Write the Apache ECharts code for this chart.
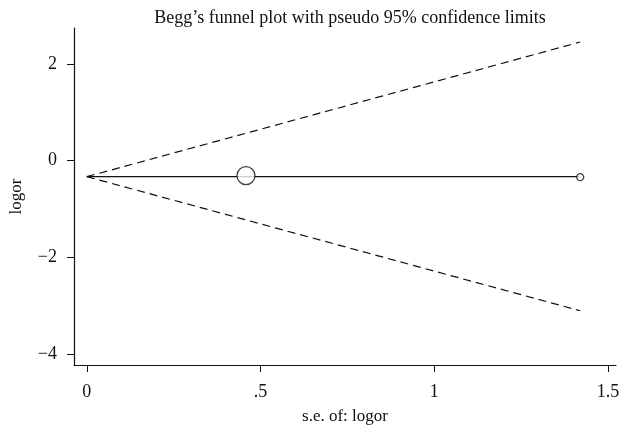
<!DOCTYPE html>
<html>
<head>
<meta charset="utf-8">
<script src="https://cdn.jsdelivr.net/npm/echarts@6/dist/echarts.min.js"></script>
<style>
  html, body { margin: 0; padding: 0; background: #fff; }
  #chart { width: 621px; height: 430px; }
</style>
</head>
<body>
<div id="chart"></div>
<script>
// values
var studySe = [0.458, 1.42];
var studyLogor = [-0.31, -0.34];
var studySize = [18, 7];
var pooled = -0.33;
var seMax = 1.42;
var upperEnd = 2.45;   // upper pseudo 95% limit at seMax
var lowerEnd = -3.10;  // lower pseudo 95% limit at seMax
var xTicks = [0, 0.5, 1, 1.5];
var xTickLabels = ['0', '.5', '1', '1.5'];
var yTicks = [-4, -2, 0, 2];

var myChart = echarts.init(document.getElementById('chart'));
var serif = '"Liberation Serif", "DejaVu Serif", serif';
var ink = '#111';

var points = studySe.map(function (s, i) {
  return { value: [s, studyLogor[i]], symbolSize: studySize[i] };
});

var option = {
  animation: false,
  textStyle: { fontFamily: serif, color: ink },
  title: {
    text: 'Begg\u2019s funnel plot with pseudo 95% confidence limits',
    left: 345, top: 4, textAlign: 'center',
    textStyle: { fontFamily: serif, fontSize: 18, fontWeight: 'normal', color: ink }
  },
  grid: { left: 74, right: 5, top: 28, bottom: 65, containLabel: false, outerBoundsMode: 'none' },
  xAxis: {
    type: 'value',
    min: -0.037, max: 1.523,
    name: 's.e. of: logor',
    nameLocation: 'middle',
    nameGap: 43,
    nameTextStyle: { fontFamily: serif, fontSize: 17, color: ink },
    splitLine: { show: false },
    axisLine: { onZero: false, lineStyle: { color: ink, width: 1.2 } },
    axisTick: { show: true, customValues: xTicks, length: 7, lineStyle: { color: ink } },
    axisLabel: {
      customValues: xTicks, margin: 18,
      fontFamily: serif, fontSize: 18, color: ink,
      formatter: function (v) { return xTickLabels[xTicks.indexOf(v)]; }
    }
  },
  yAxis: {
    type: 'value',
    min: -4.22, max: 2.74,
    name: 'logor',
    nameLocation: 'middle',
    nameGap: 49,
    nameTextStyle: { fontFamily: serif, fontSize: 17, color: ink },
    splitLine: { show: false },
    axisLine: { show: true, onZero: false, lineStyle: { color: ink, width: 1.2 } },
    axisTick: { show: true, customValues: yTicks, length: 7, lineStyle: { color: ink } },
    axisLabel: {
      customValues: yTicks, margin: 17,
      fontFamily: serif, fontSize: 18, color: ink,
      formatter: function (v) { return v < 0 ? '\u2212' + Math.abs(v) : String(v); }
    }
  },
  series: [
    {
      type: 'line', symbol: 'none', silent: true,
      lineStyle: { color: ink, width: 1.2, type: [8, 5] },
      data: [[0, pooled], [seMax, upperEnd]]
    },
    {
      type: 'line', symbol: 'none', silent: true,
      lineStyle: { color: ink, width: 1.2, type: [8, 5] },
      data: [[0, pooled], [seMax, lowerEnd]]
    },
    {
      type: 'line', symbol: 'none', silent: true,
      lineStyle: { color: ink, width: 1.2 },
      data: [[0, pooled], [seMax, pooled]]
    },
    {
      type: 'scatter', symbol: 'circle', z: 5,
      itemStyle: { color: '#fff', borderColor: ink, borderWidth: 1.3 },
      data: points
    }
  ]
};

myChart.setOption(option);
</script>
</body>
</html>
